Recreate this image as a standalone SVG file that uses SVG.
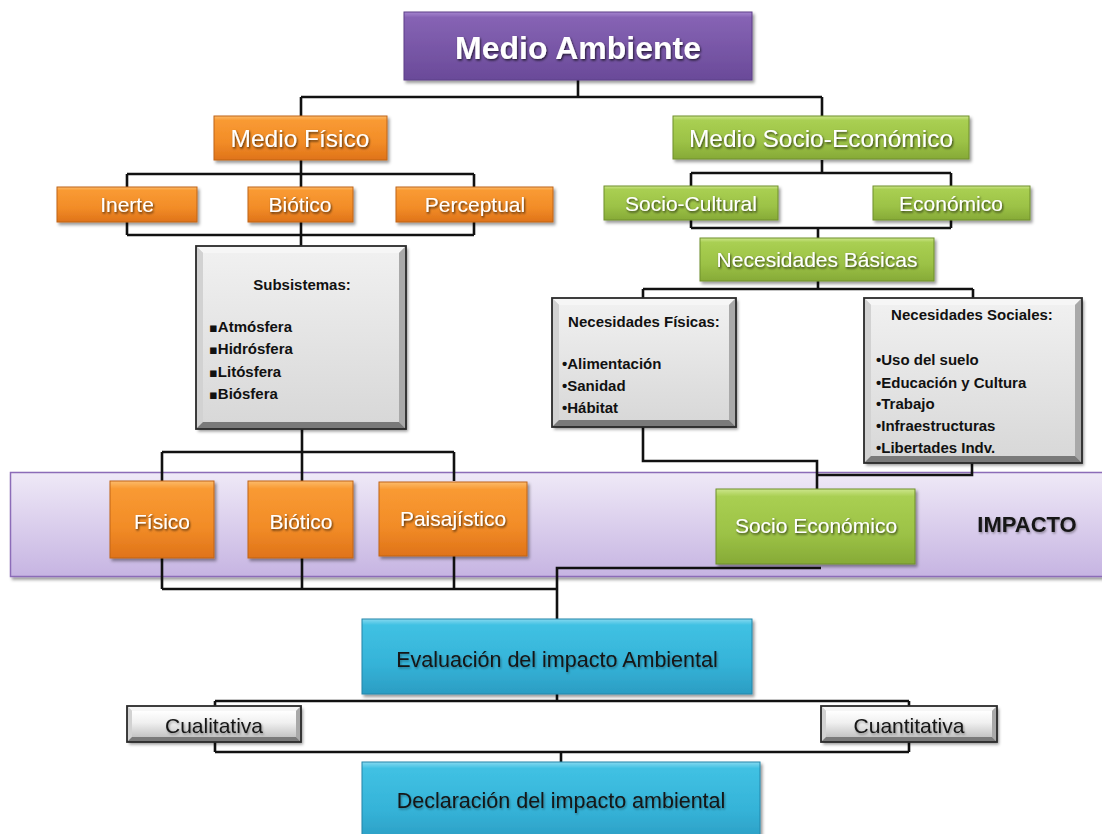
<svg xmlns="http://www.w3.org/2000/svg" width="1102" height="834" viewBox="0 0 1102 834">
  <defs>
    <linearGradient id="gPurple" x1="0" y1="0" x2="0" y2="1">
      <stop offset="0" stop-color="#a585cf"/>
      <stop offset="0.08" stop-color="#8663b4"/>
      <stop offset="1" stop-color="#6a4a99"/>
    </linearGradient>
    <linearGradient id="gOrange" x1="0" y1="0" x2="0" y2="1">
      <stop offset="0" stop-color="#fcbb6a"/>
      <stop offset="0.1" stop-color="#f99a33"/>
      <stop offset="0.6" stop-color="#f28c27"/>
      <stop offset="1" stop-color="#df7319"/>
    </linearGradient>
    <linearGradient id="gGreen" x1="0" y1="0" x2="0" y2="1">
      <stop offset="0" stop-color="#cde68c"/>
      <stop offset="0.1" stop-color="#a9cf52"/>
      <stop offset="0.6" stop-color="#9cc246"/>
      <stop offset="1" stop-color="#86aa37"/>
    </linearGradient>
    <linearGradient id="gBlue" x1="0" y1="0" x2="0" y2="1">
      <stop offset="0" stop-color="#86d9f0"/>
      <stop offset="0.08" stop-color="#40c1e3"/>
      <stop offset="0.6" stop-color="#35b3d8"/>
      <stop offset="1" stop-color="#2b9dc3"/>
    </linearGradient>
    <linearGradient id="gBand" x1="0" y1="0" x2="0" y2="1">
      <stop offset="0" stop-color="#efe9f7"/>
      <stop offset="1" stop-color="#c6b4e2"/>
    </linearGradient>
    <linearGradient id="gGrayFace" x1="0" y1="0" x2="0" y2="1">
      <stop offset="0" stop-color="#f0f0f0"/>
      <stop offset="1" stop-color="#d8d8d8"/>
    </linearGradient>
    <linearGradient id="gSmallFace" x1="0" y1="0" x2="0" y2="1">
      <stop offset="0" stop-color="#ffffff"/>
      <stop offset="0.45" stop-color="#f0f0f0"/>
      <stop offset="1" stop-color="#c4c4c4"/>
    </linearGradient>
    <filter id="boxShadow" x="-10%" y="-10%" width="125%" height="135%">
      <feDropShadow dx="2" dy="2.5" stdDeviation="1.6" flood-color="#000" flood-opacity="0.4"/>
    </filter>
    <filter id="txtShadow" x="-10%" y="-20%" width="125%" height="150%">
      <feDropShadow dx="1" dy="1.5" stdDeviation="1" flood-color="#000" flood-opacity="0.7"/>
    </filter>
    <filter id="txtShadowDark" x="-10%" y="-20%" width="125%" height="150%">
      <feDropShadow dx="1" dy="1.5" stdDeviation="1" flood-color="#000" flood-opacity="0.35"/>
    </filter>
  </defs>
  <style>
    .lbl { font-family: "Liberation Sans", Arial, sans-serif; text-anchor: middle; }
    .w { fill: #ffffff; filter: url(#txtShadow); }
    .d { fill: #141414; filter: url(#txtShadowDark); }
    .list { font-family: "Liberation Sans", Arial, sans-serif; font-weight: bold; font-size: 15px; fill: #111; }
    .sq { font-family: "DejaVu Sans", sans-serif; font-weight: normal; font-size: 13px; }
    .purple { fill: url(#gPurple); stroke: #5c3f88; stroke-width: 1; filter: url(#boxShadow); }
    .orange { fill: url(#gOrange); stroke: #bf6419; stroke-width: 1; filter: url(#boxShadow); }
    .green { fill: url(#gGreen); stroke: #6f8f2c; stroke-width: 1; filter: url(#boxShadow); }
    .blue { fill: url(#gBlue); stroke: #2586aa; stroke-width: 1; filter: url(#boxShadow); }
    .base { fill: #d0d0d0; filter: url(#boxShadow); }
    .face { fill: url(#gGrayFace); }
    .smallFace { fill: url(#gSmallFace); }
    .bvT { fill: #f6f6f6; }
    .bvL { fill: #d2d2d2; }
    .bvR { fill: #a9a9a9; }
    .bvB { fill: #7a7a7a; }
    .edge { fill: none; stroke: #2a2a2a; stroke-width: 1.8; }
    .conn { fill: none; stroke: #111; stroke-width: 2.6; stroke-linejoin: miter; }
  </style>

  <rect width="1102" height="834" fill="#ffffff"/>

  <!-- impact band -->
  <g id="band">
    <rect x="10.5" y="472.5" width="1100" height="104" fill="url(#gBand)" stroke="#8c6cb8" stroke-width="1.5" filter="url(#boxShadow)"/>
  </g>

  <!-- connectors -->
  <g id="connectors" class="conn">
    <path d="M578 80 V97 M301 97 H822 M301 97 V116 M822 97 V116"/>
    <path d="M301 160 V174 M127 174 H474 M127 174 V187 M474 174 V187 M301 174 V187"/>
    <path d="M127 222 V235 M474 222 V235 M127 235 H474 M301 222 V247"/>
    <path d="M302 429 V452 M162 452 H454 M162 452 V481 M454 452 V481 M302 452 V481"/>
    <path d="M162 558 V589 M302 558 V589 M454 556 V589 M162 589 H557"/>
    <path d="M821 568 H557 V619"/>
    <path d="M822 160 V173 M691 173 H951 M691 173 V186 M951 173 V186"/>
    <path d="M691 220 V228 M951 220 V228 M691 228 H951 M818 228 V238"/>
    <path d="M818 281 V289 M643 289 H973 M643 289 V298 M973 289 V298"/>
    <path d="M643 427 V461 H817 V489 M972 463 V475 H817"/>
    <path d="M557 694 V701 M215 701 H909 M215 701 V706 M909 701 V706"/>
    <path d="M215 742 V752 M909 742 V752 M215 752 H909 M561 752 V762"/>
  </g>

  <g id="medio-ambiente">
    <rect class="purple" x="404" y="12" width="348" height="68"/>
    <text class="lbl w" x="578" y="59" font-size="32" font-weight="bold">Medio Ambiente</text>
  </g>

  <g id="medio-fisico">
    <rect class="orange" x="214" y="116" width="173" height="44"/>
    <text class="lbl w" x="300" y="147" font-size="24.5">Medio Físico</text>
  </g>
  <g id="inerte">
    <rect class="orange" x="57" y="187" width="140" height="35"/>
    <text class="lbl w" x="127" y="212" font-size="21">Inerte</text>
  </g>
  <g id="biotico-fisico">
    <rect class="orange" x="248" y="187" width="105" height="35"/>
    <text class="lbl w" x="300" y="212" font-size="21">Biótico</text>
  </g>
  <g id="perceptual">
    <rect class="orange" x="396" y="187" width="157" height="35"/>
    <text class="lbl w" x="475" y="212" font-size="21">Perceptual</text>
  </g>

  <!-- bevelled gray box: base, four bevel edges, face, outline -->
  <g id="subsistemas">
    <rect class="base" x="196" y="246" width="210" height="183"/>
    <polygon class="bvT" points="196,246 406,246 399,253 203,253"/>
    <polygon class="bvL" points="196,246 203,253 203,422 196,429"/>
    <polygon class="bvR" points="406,246 406,429 399,422 399,253"/>
    <polygon class="bvB" points="196,429 203,422 399,422 406,429"/>
    <rect class="face" x="203" y="253" width="196" height="169"/>
    <rect class="edge" x="196" y="246" width="210" height="183"/>
    <text class="list" x="302" y="290" text-anchor="middle">Subsistemas:</text>
    <text class="list" x="209" y="332"><tspan class="sq">▪</tspan>Atmósfera</text>
    <text class="list" x="209" y="354"><tspan class="sq">▪</tspan>Hidrósfera</text>
    <text class="list" x="209" y="377"><tspan class="sq">▪</tspan>Litósfera</text>
    <text class="list" x="209" y="399"><tspan class="sq">▪</tspan>Biósfera</text>
  </g>

  <g id="medio-socio-economico">
    <rect class="green" x="673" y="116" width="296" height="43"/>
    <text class="lbl w" x="821" y="147" font-size="24.5">Medio Socio-Económico</text>
  </g>
  <g id="socio-cultural">
    <rect class="green" x="604" y="186" width="174" height="34"/>
    <text class="lbl w" x="691" y="211" font-size="21">Socio-Cultural</text>
  </g>
  <g id="economico">
    <rect class="green" x="873" y="186" width="157" height="34"/>
    <text class="lbl w" x="951" y="211" font-size="21">Económico</text>
  </g>
  <g id="necesidades-basicas">
    <rect class="green" x="700" y="238" width="234" height="43"/>
    <text class="lbl w" x="817" y="267" font-size="21">Necesidades  Básicas</text>
  </g>

  <g id="necesidades-fisicas">
    <rect class="base" x="552" y="298" width="184" height="129"/>
    <polygon class="bvT" points="552,298 736,298 729,305 559,305"/>
    <polygon class="bvL" points="552,298 559,305 559,420 552,427"/>
    <polygon class="bvR" points="736,298 736,427 729,420 729,305"/>
    <polygon class="bvB" points="552,427 559,420 729,420 736,427"/>
    <rect class="face" x="559" y="305" width="170" height="115"/>
    <rect class="edge" x="552" y="298" width="184" height="129"/>
    <text class="list" x="644" y="327" text-anchor="middle">Necesidades Físicas:</text>
    <text class="list" x="562" y="369">•Alimentación</text>
    <text class="list" x="562" y="391">•Sanidad</text>
    <text class="list" x="562" y="413">•Hábitat</text>
  </g>

  <g id="necesidades-sociales">
    <rect class="base" x="864" y="298" width="218" height="165"/>
    <polygon class="bvT" points="864,298 1082,298 1075,305 871,305"/>
    <polygon class="bvL" points="864,298 871,305 871,456 864,463"/>
    <polygon class="bvR" points="1082,298 1082,463 1075,456 1075,305"/>
    <polygon class="bvB" points="864,463 871,456 1075,456 1082,463"/>
    <rect class="face" x="871" y="305" width="204" height="151"/>
    <rect class="edge" x="864" y="298" width="218" height="165"/>
    <text class="list" x="972" y="320" text-anchor="middle">Necesidades Sociales:</text>
    <text class="list" x="876" y="365">•Uso del suelo</text>
    <text class="list" x="876" y="388">•Educación y Cultura</text>
    <text class="list" x="876" y="409">•Trabajo</text>
    <text class="list" x="876" y="431">•Infraestructuras</text>
    <text class="list" x="876" y="453">•Libertades  Indv.</text>
  </g>

  <g id="impacto-fisico">
    <rect class="orange" x="110" y="481" width="104" height="77"/>
    <text class="lbl w" x="162" y="529" font-size="21">Físico</text>
  </g>
  <g id="impacto-biotico">
    <rect class="orange" x="248" y="481" width="105" height="77"/>
    <text class="lbl w" x="301" y="529" font-size="21">Biótico</text>
  </g>
  <g id="impacto-paisajistico">
    <rect class="orange" x="379" y="482" width="148" height="74"/>
    <text class="lbl w" x="453" y="526" font-size="21">Paisajístico</text>
  </g>
  <g id="impacto-socio-economico">
    <rect class="green" x="716" y="489" width="199" height="75"/>
    <text class="lbl w" x="816" y="533" font-size="21">Socio Económico</text>
  </g>
  <g id="impacto-label">
    <text class="lbl d" x="1027" y="532" font-size="22" font-weight="bold">IMPACTO</text>
  </g>

  <g id="evaluacion">
    <rect class="blue" x="362" y="619" width="390" height="75"/>
    <text class="lbl d" x="557" y="667" font-size="21.5">Evaluación del impacto Ambiental</text>
  </g>
  <g id="cualitativa">
    <rect class="base" x="127" y="706" width="174" height="36"/>
    <polygon class="bvT" points="127,706 301,706 296,711 132,711"/>
    <polygon class="bvL" points="127,706 132,711 132,737 127,742"/>
    <polygon class="bvR" points="301,706 301,742 296,737 296,711"/>
    <polygon class="bvB" points="127,742 132,737 296,737 301,742"/>
    <rect class="smallFace" x="132" y="711" width="164" height="26"/>
    <rect class="edge" x="127" y="706" width="174" height="36"/>
    <text class="lbl d" x="214" y="733" font-size="21">Cualitativa</text>
  </g>
  <g id="cuantitativa">
    <rect class="base" x="821" y="706" width="176" height="36"/>
    <polygon class="bvT" points="821,706 997,706 992,711 826,711"/>
    <polygon class="bvL" points="821,706 826,711 826,737 821,742"/>
    <polygon class="bvR" points="997,706 997,742 992,737 992,711"/>
    <polygon class="bvB" points="821,742 826,737 992,737 997,742"/>
    <rect class="smallFace" x="826" y="711" width="166" height="26"/>
    <rect class="edge" x="821" y="706" width="176" height="36"/>
    <text class="lbl d" x="909" y="733" font-size="21">Cuantitativa</text>
  </g>
  <g id="declaracion">
    <rect class="blue" x="362" y="762" width="398" height="80"/>
    <text class="lbl d" x="561" y="808" font-size="21.5">Declaración del impacto ambiental</text>
  </g>
</svg>
